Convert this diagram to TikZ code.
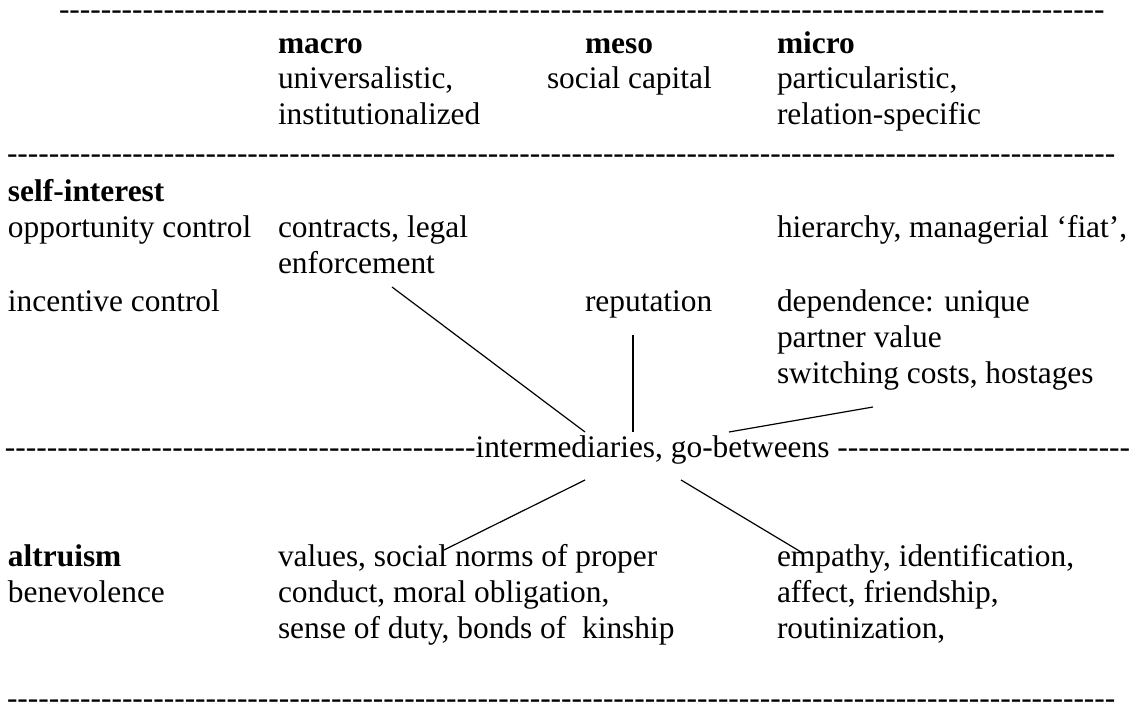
\documentclass[tikz,border=0pt]{standalone}
\usepackage{fontspec}
\setmainfont{Liberation Serif}
\newcommand\dashn[1]{\setbox0\hbox{-}\hbox to #1\wd0{\leaders\copy0\hfill}}
\tikzset{
  txt/.style={anchor=base west, inner sep=0pt, outer sep=0pt, font=\fontsize{31.4}{36.3}\selectfont},
  hd/.style={txt, font=\fontsize{31.4}{36.3}\selectfont\bfseries},
  conn/.style={line width=1.2pt, line cap=butt}
}
\begin{document}
\begin{tikzpicture}[x=1pt,y=-1pt]
\fill[white] (0,0) rectangle (1132,711);
\useasboundingbox (0,0) rectangle (1132,711);
% dashed rules made of hyphens
\node[txt] (d0) at (59,20) {\dashn{100}};
\node[txt] (d1) at (7,164) {\dashn{106}};
\node[txt] (d2l) at (5,457) {\dashn{45}};
\node[txt] (inter) at (d2l.base east) {intermediaries, go-betweens};
\node[txt] (d2r) at ([xshift=7.85pt]inter.base east) {\dashn{28}};
\node[txt] (d3) at (7,708) {\dashn{106}};
% header
\node[hd] (macro) at (278,54) {macro};
\node[hd] (meso) at (585,54) {meso};
\node[hd] (micro) at (777,54) {micro};
\node[txt] (univ) at (278,89) {universalistic,};
\node[txt] (soc) at (547,89) {social capital};
\node[txt] (part) at (777,89) {particularistic,};
\node[txt] (inst) at (278,125) {institutionalized};
\node[txt] (rel) at (777,125) {relation-specific};
% self-interest
\node[hd] (self) at (8,202) {self-interest};
\node[txt] (opp) at (8,238) {opportunity control};
\node[txt] (contr) at (278,238) {contracts, legal};
\node[txt] (hier) at (777,238) {hierarchy, managerial ‘fiat’,};
\node[txt] (enf) at (278,274) {enforcement};
\node[txt] (inc) at (8,311) {incentive control};
\node[txt] (rep) at (585,311) {reputation};
\node[txt] (dep) at (777,311) {dependence: unique};
\node[txt] (pv) at (777,347) {partner value};
\node[txt] (sw) at (777,383) {switching costs, hostages};
% altruism
\node[hd] (alt) at (8,566) {altruism};
\node[txt] (val) at (278,566) {values, social norms of proper};
\node[txt] (emp) at (777,566) {empathy, identification,};
\node[txt] (ben) at (8,602) {benevolence};
\node[txt] (cond) at (278,602) {conduct, moral obligation,};
\node[txt] (aff) at (777,602) {affect, friendship,};
\node[txt] (sense) at (278,638) {sense of duty, bonds of~ kinship};
\node[txt] (rout) at (777,638) {routinization,};
% connector ends
\coordinate (enfE) at (392,287);
\coordinate (repE) at (633,335);
\coordinate (swE) at (873,407);
\coordinate (valE) at (444,550);
\coordinate (empE) at (801,552);
\coordinate (inA) at (585,432);
\coordinate (inB) at (633,432);
\coordinate (inC) at (729,432);
\coordinate (inD) at (585,480);
\coordinate (inE) at (681,480);
\draw[conn] (enfE) -- (inA);
\draw[conn] (repE) -- (inB);
\draw[conn] (swE) -- (inC);
\draw[conn] (inD) -- (valE);
\draw[conn] (inE) -- (empE);
\end{tikzpicture}
\end{document}
